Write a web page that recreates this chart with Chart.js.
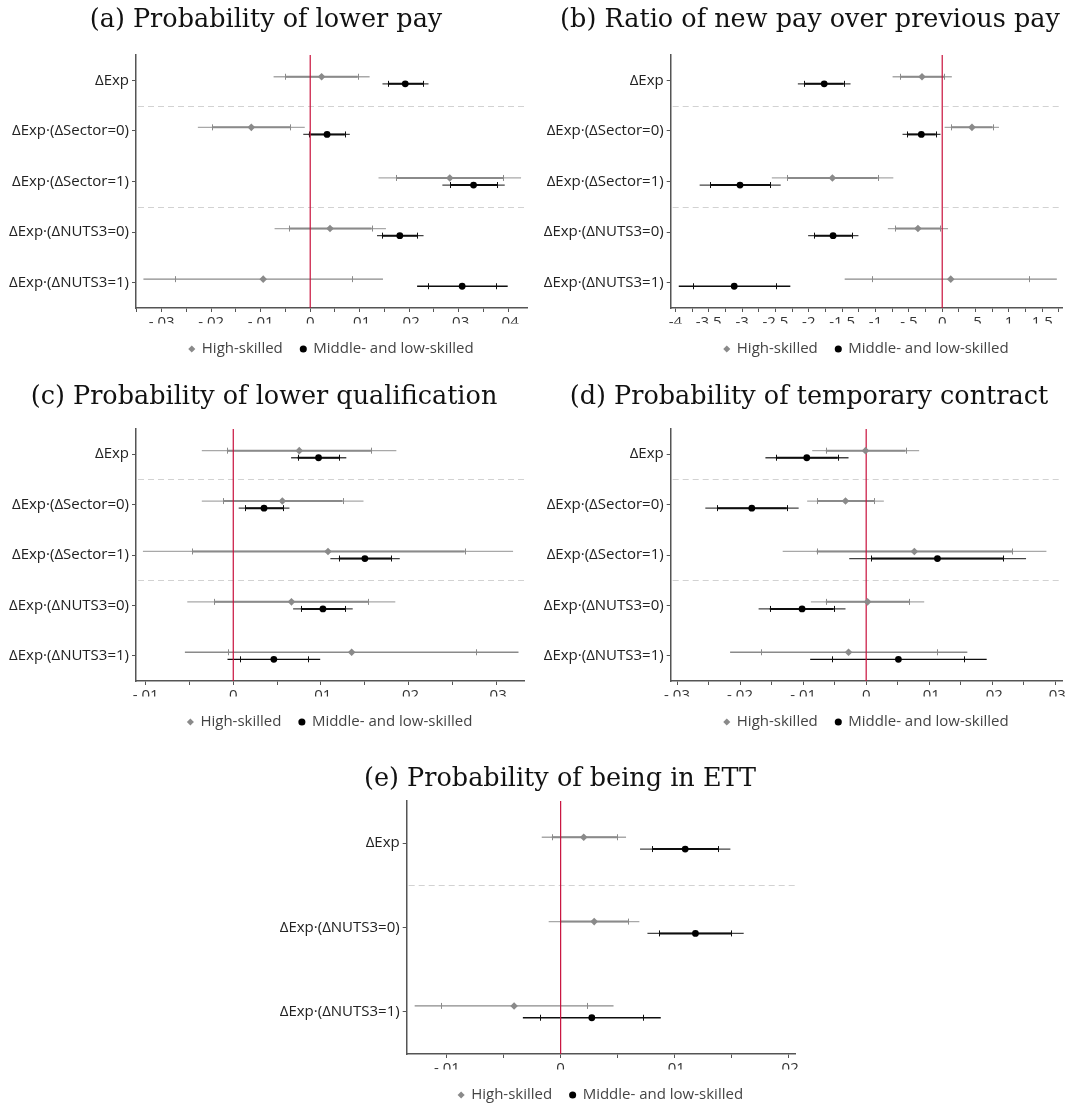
<!DOCTYPE html>
<html lang="en">
<head>
<meta charset="utf-8">
<title>Experience effects by skill group</title>
<script src="https://cdn.jsdelivr.net/npm/chart.js@4.4.1/dist/chart.umd.min.js"></script>
<style>
  html, body { margin: 0; padding: 0; background: #ffffff; }
  body { position: relative; width: 1067px; height: 1107px; overflow: hidden; }
  canvas { position: absolute; }
</style>
</head>
<body>
<canvas id="panelA"></canvas>
<canvas id="panelB"></canvas>
<canvas id="panelC"></canvas>
<canvas id="panelD"></canvas>
<canvas id="panelE"></canvas>
<script>
// ---------- Row labels, legend names, titles ----------
const rowsSectorNuts = ['ΔExp', 'ΔExp·(ΔSector=0)', 'ΔExp·(ΔSector=1)', 'ΔExp·(ΔNUTS3=0)', 'ΔExp·(ΔNUTS3=1)'];
const rowsNuts = ['ΔExp', 'ΔExp·(ΔNUTS3=0)', 'ΔExp·(ΔNUTS3=1)'];
const nameHigh = 'High-skilled';
const nameMidLow = 'Middle- and low-skilled';

const titleA = '(a) Probability of lower pay';
const titleB = '(b) Ratio of new pay over previous pay';
const titleC = '(c) Probability of lower qualification';
const titleD = '(d) Probability of temporary contract';
const titleE = '(e) Probability of being in ETT';

// ---------- (a) Probability of lower pay ----------
const lowPayHighEst  = [0.0023, -0.0119, 0.0282, 0.0040, -0.0095];
const lowPayHighCi99 = [[-0.0074, 0.0120], [-0.0227, -0.0011], [0.0138, 0.0426], [-0.0072, 0.0153], [-0.0337, 0.0147]];
const lowPayHighCi95 = [[-0.0050, 0.0096], [-0.0198, -0.0040], [0.0174, 0.0390], [-0.0043, 0.0124], [-0.0274, 0.0085]];
const lowPayMidEst   = [0.0192, 0.0034, 0.0330, 0.0181, 0.0307];
const lowPayMidCi99  = [[0.0146, 0.0239], [-0.0014, 0.0080], [0.0267, 0.0393], [0.0135, 0.0229], [0.0216, 0.0399]];
const lowPayMidCi95  = [[0.0157, 0.0228], [-0.0003, 0.0070], [0.0283, 0.0378], [0.0146, 0.0216], [0.0237, 0.0376]];

// ---------- (b) Ratio of new pay over previous pay ----------
const payRatioHighEst  = [-0.303, 0.446, -1.646, -0.364, 0.128];
const payRatioHighCi99 = [[-0.744, 0.144], [0.036, 0.851], [-2.554, -0.733], [-0.815, 0.087], [-1.462, 1.718]];
const payRatioHighCi95 = [[-0.631, 0.026], [0.133, 0.754], [-2.323, -0.969], [-0.703, -0.026], [-1.051, 1.308]];
const payRatioMidEst   = [-1.769, -0.313, -3.031, -1.636, -3.118];
const payRatioMidCi99  = [[-2.164, -1.374], [-0.595, -0.026], [-3.636, -2.421], [-2.010, -1.256], [-3.949, -2.277]];
const payRatioMidCi95  = [[-2.067, -1.477], [-0.528, -0.097], [-3.477, -2.579], [-1.918, -1.354], [-3.738, -2.492]];

// ---------- (c) Probability of lower qualification ----------
const lowQualHighEst  = [0.00753, 0.00560, 0.01081, 0.00664, 0.01351];
const lowQualHighCi99 = [[-0.00359, 0.01861], [-0.00359, 0.01486], [-0.01031, 0.03193], [-0.00525, 0.01849], [-0.00552, 0.03255]];
const lowQualHighCi95 = [[-0.00066, 0.01571], [-0.00116, 0.01247], [-0.00471, 0.02641], [-0.00220, 0.01541], [-0.00058, 0.02772]];
const lowQualMidEst   = [0.00973, 0.00351, 0.01502, 0.01023, 0.00463];
const lowQualMidCi99  = [[0.00660, 0.01290], [0.00062, 0.00641], [0.01108, 0.01900], [0.00683, 0.01363], [-0.00066, 0.00992]];
const lowQualMidCi95  = [[0.00734, 0.01208], [0.00139, 0.00568], [0.01205, 0.01803], [0.00772, 0.01278], [0.00077, 0.00857]];

// ---------- (d) Probability of temporary contract ----------
const tempHighEst  = [-0.00011, -0.00328, 0.00764, 0.00022, -0.00280];
const tempHighCi99 = [[-0.00856, 0.00840], [-0.00936, 0.00280], [-0.01324, 0.02858], [-0.00877, 0.00920], [-0.02158, 0.01604]];
const tempHighCi95 = [[-0.00640, 0.00624], [-0.00780, 0.00124], [-0.00786, 0.02314], [-0.00640, 0.00684], [-0.01674, 0.01125]];
const tempMidEst   = [-0.00942, -0.01814, 0.01130, -0.01017, 0.00511];
const tempMidCi99  = [[-0.01598, -0.00280], [-0.02551, -0.01071], [-0.00269, 0.02535], [-0.01706, -0.00328], [-0.00888, 0.01911]];
const tempMidCi95  = [[-0.01432, -0.00452], [-0.02363, -0.01259], [0.00081, 0.02174], [-0.01529, -0.00517], [-0.00544, 0.01550]];

// ---------- (e) Probability of being in ETT ----------
const ettHighEst  = [0.00203, 0.00295, -0.00409];
const ettHighCi99 = [[-0.00166, 0.00575], [-0.00105, 0.00692], [-0.01283, 0.00465]];
const ettHighCi95 = [[-0.00077, 0.00495], [-0.00006, 0.00594], [-0.01052, 0.00234]];
const ettMidEst   = [0.01095, 0.01185, 0.00274];
const ettMidCi99  = [[0.00698, 0.01492], [0.00763, 0.01609], [-0.00332, 0.00880]];
const ettMidCi95  = [[0.00806, 0.01385], [0.00865, 0.01498], [-0.00178, 0.00726]];

// ---------- Labelled x-axis ticks ----------
const ticksA = [-0.03, -0.02, -0.01, 0, 0.01, 0.02, 0.03, 0.04];
const ticksB = [-4, -3.5, -3, -2.5, -2, -1.5, -1, -0.5, 0, 0.5, 1, 1.5];
const ticksC = [-0.01, 0, 0.01, 0.02, 0.03];
const ticksD = [-0.03, -0.02, -0.01, 0, 0.01, 0.02, 0.03];
const ticksE = [-0.01, 0, 0.01, 0.02];

// ---------- Page layout of the five panels ----------
// Each canvas is centred on its title; the plot area is fixed inside it.
const layouts = {
  A: { canvasLeft: 0,   titleX: 266,  titleY: 20.5, plotLeft: 136,   plotRight: 527,    plotTop: 55,  plotBottom: 308,  xMin: -0.0352, xMax: 0.0438 },
  B: { canvasLeft: 533, titleX: 810,  titleY: 20.5, plotLeft: 670.7, plotRight: 1062.3, plotTop: 55,  plotBottom: 308,  xMin: -4.07,   xMax: 1.80 },
  C: { canvasLeft: 0,   titleX: 264,  titleY: 397,  plotLeft: 136,   plotRight: 527,    plotTop: 429, plotBottom: 681,  xMin: -0.0111, xMax: 0.0332 },
  D: { canvasLeft: 533, titleX: 809,  titleY: 397,  plotLeft: 670.7, plotRight: 1062.3, plotTop: 429, plotBottom: 681,  xMin: -0.0310, xMax: 0.0311 },
  E: { canvasLeft: 260, titleX: 560,  titleY: 779,  plotLeft: 406.7, plotRight: 795,    plotTop: 801, plotBottom: 1054, xMin: -0.01353, xMax: 0.0206 }
};

const SANS = "'Open Sans', 'Noto Sans', 'DejaVu Sans', sans-serif";
const SERIF = "'DejaVu Serif', 'Liberation Serif', serif";
const TITLE_SIZE = 25.5;
const TITLE_LH = 1.2;
const X_AXIS_H = 15.5;
const LEGEND_FONT = 15;
const LEGEND_PAD = 18;
const LEGEND_H = LEGEND_FONT + LEGEND_PAD + 10;
const ROW_SHIFT = 0.07;

const styleHigh = { pointStyle: 'rectRot', radius: 3.8, point: '#8a8a8a', outer: '#a8a8a8', inner: '#8a8a8a', cap: '#8a8a8a' };
const styleMid  = { pointStyle: 'circle',  radius: 3.4, point: '#000000', outer: '#444444', inner: '#0e0e0e', cap: '#0e0e0e' };

Chart.defaults.font.family = SANS;

// Stata-like tick text: ".01", "-.5", "1.5", "0"
function fmtTick(v) {
  if (Math.abs(v) < 1e-12) return '0';
  return String(parseFloat(v.toFixed(4))).replace(/^(-?)0\./, '$1.');
}

// Labelled ticks plus unlabelled half-step ticks between them
function withMinorTicks(major, min, max) {
  const step = major[1] - major[0];
  const all = [];
  const first = major[0] - step / 2;
  if (first >= min) all.push(first);
  major.forEach((v, i) => {
    all.push(v);
    const mid = v + step / 2;
    if (i < major.length - 1 || mid <= max) all.push(mid);
  });
  return all.filter(v => v >= min - 1e-12 && v <= max + 1e-12);
}

// Interval bars, group separators and the zero reference line
const forestPlugin = {
  id: 'forest',
  beforeDatasetsDraw(chart, args, opts) {
    const { ctx, chartArea: area, scales: { x, y } } = chart;
    ctx.save();
    ctx.lineCap = 'butt';

    ctx.setLineDash([6, 4]);
    ctx.strokeStyle = '#d2d2d2';
    ctx.lineWidth = 1;
    opts.breaks.forEach(b => {
      const py = Math.round(y.getPixelForValue(b)) + 0.5;
      ctx.beginPath(); ctx.moveTo(area.left + 2, py); ctx.lineTo(area.right, py); ctx.stroke();
    });
    ctx.setLineDash([]);

    chart.data.datasets.forEach(ds => {
      ds.data.forEach((pt, i) => {
        const py = y.getPixelForValue(pt.y);
        const thin = opts.thinRows.includes(i);
        const seg = (a, b, color, w) => {
          ctx.strokeStyle = color; ctx.lineWidth = w;
          ctx.beginPath(); ctx.moveTo(x.getPixelForValue(a), py); ctx.lineTo(x.getPixelForValue(b), py); ctx.stroke();
        };
        seg(ds.ci99[i][0], ds.ci99[i][1], thin ? ds.innerColor : ds.outerColor, 1.3);
        if (!thin) seg(ds.ci95[i][0], ds.ci95[i][1], ds.innerColor, 2);
        ctx.strokeStyle = ds.capColor; ctx.lineWidth = 1;
        ds.ci95[i].forEach(v => {
          const px = Math.round(x.getPixelForValue(v)) + 0.5;
          ctx.beginPath(); ctx.moveTo(px, py - 3); ctx.lineTo(px, py + 3); ctx.stroke();
        });
      });
    });

    const zx = x.getPixelForValue(0);
    ctx.strokeStyle = '#c8103c';
    ctx.lineWidth = 1.2;
    ctx.beginPath(); ctx.moveTo(zx, area.top); ctx.lineTo(zx, area.bottom); ctx.stroke();
    ctx.restore();
  }
};

function seriesDataset(label, est, ci99, ci95, shift, st) {
  return {
    label,
    data: est.map((v, i) => ({ x: v, y: i + 1 + shift })),
    ci99, ci95,
    outerColor: st.outer, innerColor: st.inner, capColor: st.cap,
    pointStyle: st.pointStyle,
    pointRadius: st.radius,
    pointHoverRadius: st.radius,
    backgroundColor: st.point,
    borderColor: st.point,
    borderWidth: 0
  };
}

function buildPanel(canvasId, L, rows, title, majorTicks, high, mid, breaks) {
  const lineH = TITLE_SIZE * TITLE_LH;
  const top = Math.round(L.titleY - lineH / 2 - 3);
  const padTop = L.titleY - lineH / 2 - top;
  const padBottom = L.plotTop - top - padTop - lineH;
  const height = Math.ceil(L.plotBottom - top + X_AXIS_H + LEGEND_H);
  const layoutBottom = height - (L.plotBottom - top) - X_AXIS_H - LEGEND_H;
  const width = Math.round(2 * (L.titleX - L.canvasLeft));
  // space kept free right of the plot, reserved through the x scale so the title stays centred
  const rightGap = Math.max(0, L.canvasLeft + width - L.plotRight);
  const yWidth = L.plotLeft - L.canvasLeft;

  const canvas = document.getElementById(canvasId);
  canvas.width = width;
  canvas.height = height;
  canvas.style.left = L.canvasLeft + 'px';
  canvas.style.top = top + 'px';

  const allTicks = withMinorTicks(majorTicks, L.xMin, L.xMax);
  const isLabelled = v => majorTicks.some(t => Math.abs(t - v) < 1e-9);

  return new Chart(canvas, {
    type: 'scatter',
    data: {
      datasets: [
        seriesDataset(nameHigh, high[0], high[1], high[2], -ROW_SHIFT, styleHigh),
        seriesDataset(nameMidLow, mid[0], mid[1], mid[2], ROW_SHIFT, styleMid)
      ]
    },
    options: {
      responsive: false,
      animation: false,
      devicePixelRatio: 1,
      events: [],
      layout: { padding: { left: 0, right: 0, top: 0, bottom: layoutBottom } },
      scales: {
        x: {
          type: 'linear', position: 'bottom', min: L.xMin, max: L.xMax,
          afterBuildTicks: s => { s.ticks = allTicks.map(v => ({ value: v })); },
          afterFit: s => { s.height = X_AXIS_H; s.paddingLeft = 0; s.paddingRight = rightGap; },
          ticks: {
            autoSkip: false, maxRotation: 0, minRotation: 0, padding: 2,
            color: '#333333', font: { family: SANS, size: 15 },
            callback: v => (isLabelled(v) ? fmtTick(v) : '')
          },
          grid: { drawOnChartArea: false, drawTicks: true, tickLength: 4, color: '#555555', lineWidth: 1 },
          border: { display: true, color: '#555555', width: 1.5 }
        },
        y: {
          type: 'linear', reverse: true, min: 0.5, max: rows.length + 0.5,
          afterBuildTicks: s => { s.ticks = rows.map((_, i) => ({ value: i + 1 })); },
          afterFit: s => { s.width = yWidth; s.paddingTop = 0; s.paddingBottom = 0; },
          ticks: {
            autoSkip: false, padding: 3,
            color: '#222222', font: { family: SANS, size: 15 },
            callback: v => rows[Math.round(v) - 1]
          },
          grid: { drawOnChartArea: false, drawTicks: true, tickLength: 4, color: '#555555', lineWidth: 1 },
          border: { display: true, color: '#555555', width: 1.5 }
        }
      },
      plugins: {
        forest: { breaks, thinRows: [rows.length - 1] },
        tooltip: { enabled: false },
        title: {
          display: true, text: title, color: '#111111',
          font: { family: SERIF, size: TITLE_SIZE, weight: 'normal', lineHeight: TITLE_LH },
          padding: { top: padTop, bottom: padBottom }
        },
        legend: {
          display: true, position: 'bottom', fullSize: false,
          labels: {
            usePointStyle: true, boxWidth: 5, boxHeight: 5, padding: LEGEND_PAD,
            color: '#444444', font: { family: SANS, size: LEGEND_FONT }
          }
        }
      }
    },
    plugins: [forestPlugin]
  });
}

buildPanel('panelA', layouts.A, rowsSectorNuts, titleA, ticksA,
  [lowPayHighEst, lowPayHighCi99, lowPayHighCi95], [lowPayMidEst, lowPayMidCi99, lowPayMidCi95], [1.5, 3.5]);
buildPanel('panelB', layouts.B, rowsSectorNuts, titleB, ticksB,
  [payRatioHighEst, payRatioHighCi99, payRatioHighCi95], [payRatioMidEst, payRatioMidCi99, payRatioMidCi95], [1.5, 3.5]);
buildPanel('panelC', layouts.C, rowsSectorNuts, titleC, ticksC,
  [lowQualHighEst, lowQualHighCi99, lowQualHighCi95], [lowQualMidEst, lowQualMidCi99, lowQualMidCi95], [1.5, 3.5]);
buildPanel('panelD', layouts.D, rowsSectorNuts, titleD, ticksD,
  [tempHighEst, tempHighCi99, tempHighCi95], [tempMidEst, tempMidCi99, tempMidCi95], [1.5, 3.5]);
buildPanel('panelE', layouts.E, rowsNuts, titleE, ticksE,
  [ettHighEst, ettHighCi99, ettHighCi95], [ettMidEst, ettMidCi99, ettMidCi95], [1.5]);
</script>
</body>
</html>
